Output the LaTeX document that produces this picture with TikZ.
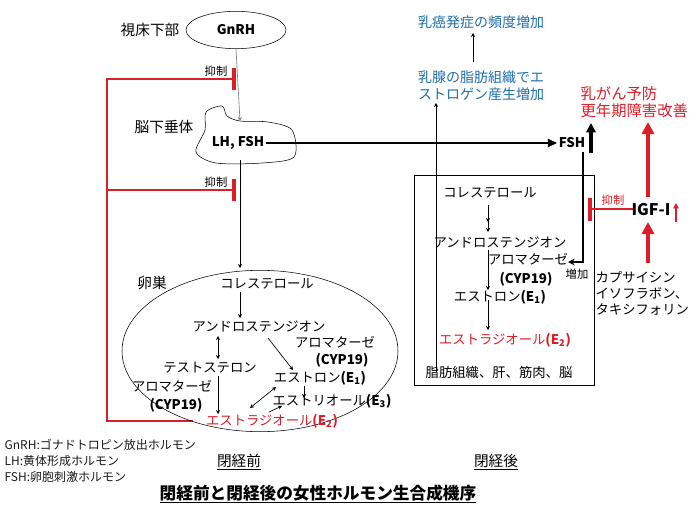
\documentclass[tikz,border=0pt]{standalone}
\usepackage{fontspec}
\setmainfont{Noto Sans CJK JP}
\usetikzlibrary{arrows.meta,shapes.geometric}
\definecolor{hred}{RGB}{220,30,40}
\definecolor{hblue}{RGB}{30,110,170}
\begin{document}
\begin{tikzpicture}[x=0.75pt,y=-0.75pt,font=\fontsize{10}{12}\selectfont,>=Stealth,
  lbl/.style={inner sep=1pt},
  thin arrow/.style={->,>={Stealth[length=3pt,width=3pt]},line width=0.5pt},
  both arrow/.style={<->,>={Stealth[length=3pt,width=3pt]},line width=0.5pt},
  inhibit/.style={hred,line width=1.6pt},
  bar/.style={hred,line width=2.4pt},
  thick arrow/.style={->,>={Triangle[length=7pt,width=6pt]},line width=1.6pt},
  red arrow/.style={->,>={Triangle[length=9pt,width=9pt]},line width=3pt,hred},
  small/.style={font=\fontsize{8.5}{10}\selectfont},
  big/.style={font=\fontsize{11}{13}\selectfont}]
\useasboundingbox (0,0) rectangle (690,518);
% left: before menopause
\node[lbl,big] (hypo) at (150,30) {視床下部};
\node[draw,ellipse,minimum width=75pt,minimum height=28pt,inner sep=0pt] (gnrh) at (236,30) {\textbf{GnRH}};
\draw[line width=0.4pt,smooth cycle] plot coordinates {(206,112) (222,106) (227,116) (240,121) (268,122) (292,130) (294,157) (262,163) (216,163) (196,152) (205,130)};
\node[lbl,big] (pit) at (164,127) {脳下垂体};
\node[lbl] (lhfsh) at (238,143) {\textbf{LH, FSH}};
\draw[thin arrow,gray] (gnrh.south) -- (240,121);
\node[lbl,small] (inh1) at (216,71) {抑制};
\node[lbl,small] (inh2) at (216,182) {抑制};
\draw[inhibit] (193,421) -- (107,421) -- (107,79) -- (234,79);
\draw[inhibit] (107,190) -- (234,190);
\draw[bar] (234,68) -- (234,90);
\draw[bar] (234,179) -- (234,201);
\draw[thin arrow] (240,160) -- (240,268);
\node[draw,ellipse,minimum width=207pt,minimum height=121pt,inner sep=0pt] (ovary) at (260,351) {};
\node[lbl,big] (ovl) at (152,283) {卵巣};
\node[lbl] (chol1) at (267,284) {コレステロール};
\node[lbl] (andro1) at (259,327) {アンドロステンジオン};
\node[lbl] (arom1) at (335,342) {アロマターゼ};
\node[lbl] (cyp1) at (342,360) {\textbf{(CYP19)}};
\node[lbl] (testo) at (210,368) {テストステロン};
\node[lbl] (e1a) at (320,378) {エストロン\textbf{(E\textsubscript{1})}};
\node[lbl] (e3) at (332,401) {エストリオール\textbf{(E\textsubscript{3})}};
\node[lbl] (arom2) at (172,386) {アロマターゼ};
\node[lbl] (cyp2) at (176,405) {\textbf{(CYP19)}};
\node[lbl,text=hred] (e2a) at (272,421) {エストラジオール\textbf{(E\textsubscript{2})}};
\draw[thin arrow] (240,292) -- (240,318);
\draw[both arrow] (218,336) -- (218,359);
\draw[thin arrow] (268,338) -- (293,370);
\draw[thin arrow] (218,376) -- (218,414);
\draw[thin arrow] (304,386) -- (304,398);
\draw[both arrow] (250,408) -- (276,387);
\draw[thin arrow] (269,412) -- (282,406);
% legend and titles
\node[lbl,font=\fontsize{9}{10}\selectfont,anchor=west,gray!20!black] (lg1) at (3,445) {GnRH:ゴナドトロピン放出ホルモン};
\node[lbl,font=\fontsize{9}{10}\selectfont,anchor=west,gray!20!black] (lg2) at (3,461) {LH:黄体形成ホルモン};
\node[lbl,font=\fontsize{9}{10}\selectfont,anchor=west,gray!20!black] (lg3) at (3,477) {FSH:卵胞刺激ホルモン};
\node[lbl,big] (pre) at (239,462) {\underline{閉経前}};
\node[lbl,big] (post) at (496,462) {\underline{閉経後}};
\node[lbl,font=\fontsize{12.5}{14}\selectfont\bfseries] (title) at (318,494) {\underline{閉経前と閉経後の女性ホルモン生合成機序}};
% right: after menopause
\node[lbl,text=hblue,font=\fontsize{10.5}{13}\selectfont] (bc) at (481,22) {乳癌発症の頻度増加};
\node[lbl,text=hblue,align=left,font=\fontsize{10.5}{13}\selectfont] (mam) at (481,86) {乳腺の脂肪組織でエ\\ストロゲン産生増加};
\draw[thin arrow] (473,62) -- (473,33);
\node[lbl] (fsh) at (572,143) {\textbf{FSH}};
\draw[thick arrow] (lhfsh.east) -- (fsh.west);
\draw[->,>={Triangle[length=7pt,width=7pt]},line width=2.6pt] (591,153) -- (591,123);
\draw[draw=black,line width=0.5pt] (414,175) rectangle (594,385);
\draw[thin arrow] (436,372) -- (436,103);
\node[lbl] (chol2) at (490,193) {コレステロール};
\node[lbl] (andro2) at (500,243) {アンドロステンジオン};
\node[lbl] (arom3) at (528,259) {アロマターゼ};
\node[lbl] (cyp3) at (526,279) {\textbf{(CYP19)}};
\node[lbl] (e1b) at (500,297) {エストロン\textbf{(E\textsubscript{1})}};
\node[lbl,text=hred] (e2b) at (505,340) {エストラジオール\textbf{(E\textsubscript{2})}};
\node[lbl] (tis) at (499,372) {脂肪組織、肝、筋肉、脳};
\draw[thin arrow] (488,205) -- (488,222);
\draw[thin arrow] (488,215) -- (488,232);
\draw[thin arrow] (488,250) -- (488,290);
\draw[thin arrow] (488,300) -- (488,330);
\draw[->,>={Stealth[length=5pt,width=5pt]},line width=1.6pt] (583,152) -- (583,262) -- (568,262);
\node[lbl,small] (inc) at (577,274) {増加};
\node[lbl,small,text=hred] (inh3) at (613,200) {抑制};
\node[lbl,font=\fontsize{12}{14}\selectfont\bfseries] (igf) at (651,210) {IGF-I};
\draw[->,>={Triangle[length=4pt,width=4pt]},line width=1.4pt,hred] (676,222) -- (676,203);
\draw[inhibit] (633,209) -- (590,209);
\draw[bar] (590,198) -- (590,221);
\draw[red arrow] (648,197) -- (648,122);
\draw[red arrow] (648,263) -- (648,222);
\node[lbl,text=hred,anchor=west,font=\fontsize{11.5}{14}\selectfont] (prev1) at (579,94) {乳がん予防};
\node[lbl,text=hred,anchor=west,font=\fontsize{11.5}{14}\selectfont] (prev2) at (579,111) {更年期障害改善};
\node[lbl,anchor=west,align=left] (caps) at (594,293) {カプサイシン\\イソフラボン、\\タキシフォリン};
\end{tikzpicture}
\end{document}
